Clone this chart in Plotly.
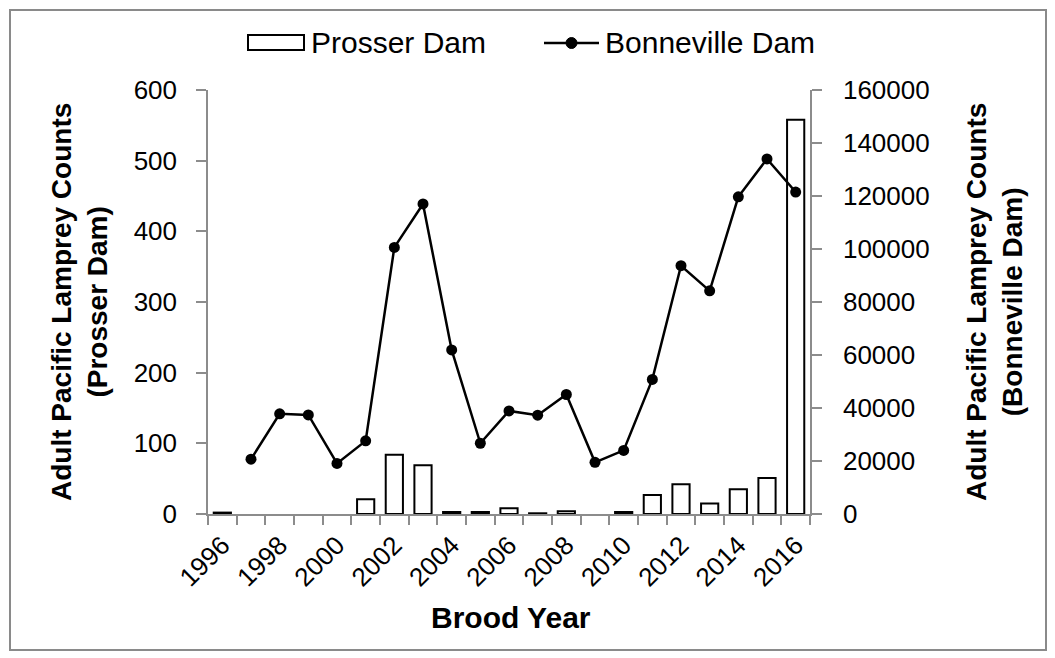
import plotly.graph_objects as go

# --- data ---
years = list(range(1996, 2017))
prosser = [2, None, None, None, None, 21, 84, 69, 3, 3, 8, 1, 4, None, 3, 27, 42, 15, 35, 51, 558]
bonneville = [None, 20700, 37800, 37400, 19100, 27600, 100600, 117000, 61900, 26700, 38900,
              37300, 45100, 19500, 24000, 50800, 93700, 84200, 119700, 134000, 121500]
year_labels = [str(y) for y in range(1996, 2017, 2)]

FONT = "Liberation Sans, Arial, sans-serif"
AXIS_GREY = "#8c8c8c"

# plot area in page pixels (page has an 8px body margin)
PX0, PX1, PY0, PY1 = 208, 810, 90, 514


def px(sx):
    return (sx - PX0) / (PX1 - PX0)


def py(sy):
    return (PY1 - sy) / (PY1 - PY0)


fig = go.Figure()

# Prosser Dam bars (left axis)
fig.add_trace(go.Bar(
    x=years, y=prosser, name="Prosser Dam", width=0.6,
    marker=dict(color="white", line=dict(color="black", width=2)),
    yaxis="y", showlegend=False,
))

# Bonneville Dam line (right axis)
fig.add_trace(go.Scatter(
    x=years, y=bonneville, name="Bonneville Dam", mode="lines+markers",
    line=dict(color="black", width=2.5),
    marker=dict(color="black", size=11),
    yaxis="y2", showlegend=False,
))

fig.update_layout(
    width=1055, height=658,
    margin=dict(l=200, r=253, t=82, b=152),
    paper_bgcolor="white", plot_bgcolor="white",
    font=dict(family=FONT, size=25, color="black"),
    xaxis=dict(
        range=[1995.5, 2016.5],
        tickvals=list(range(1996, 2017, 2)), ticktext=year_labels,
        tickangle=-45, ticks="", showgrid=False, zeroline=False,
        showline=True, linecolor=AXIS_GREY, linewidth=1.5,
        minor=dict(ticks="outside", tick0=1995.5, dtick=1, ticklen=9,
                   tickcolor=AXIS_GREY, tickwidth=1.5, showgrid=False),
        tickfont=dict(size=26), ticklabelstandoff=4,
    ),
    yaxis=dict(
        range=[0, 600], dtick=100, showgrid=False, zeroline=False,
        showline=True, linecolor=AXIS_GREY, linewidth=1.5,
        ticks="outside", ticklen=10, tickcolor=AXIS_GREY, tickwidth=1.5,
        tickfont=dict(size=26), ticklabelstandoff=14,
    ),
    yaxis2=dict(
        range=[0, 160000], dtick=20000, overlaying="y", side="right",
        tickformat="d", showgrid=False, zeroline=False,
        showline=True, linecolor=AXIS_GREY, linewidth=1.5,
        ticks="outside", ticklen=10, tickcolor=AXIS_GREY, tickwidth=1.5,
        tickfont=dict(size=26), ticklabelstandoff=16,
    ),
)

# axis titles
fig.add_annotation(text="<b>Brood Year</b>", xref="paper", yref="paper",
                   x=px(511), y=py(617), showarrow=False, font=dict(size=30),
                   xanchor="center", yanchor="middle")
fig.add_annotation(text="<b>Adult Pacific Lamprey Counts<br>(Prosser Dam)</b>",
                   xref="paper", yref="paper", x=px(79), y=0.5, textangle=-90,
                   showarrow=False, font=dict(size=28), xanchor="center", yanchor="middle")
fig.add_annotation(text="<b>Adult Pacific Lamprey Counts<br>(Bonneville Dam)</b>",
                   xref="paper", yref="paper", x=px(994), y=0.5, textangle=-90,
                   showarrow=False, font=dict(size=28), xanchor="center", yanchor="middle")

# legend drawn by hand so the bar key is a wide box like the original
fig.add_shape(type="rect", xref="paper", yref="paper",
              x0=px(248), x1=px(304), y0=py(50), y1=py(35),
              line=dict(color="black", width=2), fillcolor="white")
fig.add_annotation(text="Prosser Dam", xref="paper", yref="paper",
                   x=px(309), y=py(43), showarrow=False, font=dict(size=30),
                   xanchor="left", yanchor="middle")
fig.add_shape(type="line", xref="paper", yref="paper",
              x0=px(544), x1=px(599), y0=py(43), y1=py(43),
              line=dict(color="black", width=2.5))
fig.add_shape(type="circle", xref="paper", yref="paper",
              x0=px(566), x1=px(577), y0=py(48.5), y1=py(37.5),
              line=dict(color="black", width=1), fillcolor="black")
fig.add_annotation(text="Bonneville Dam", xref="paper", yref="paper",
                   x=px(603), y=py(43), showarrow=False, font=dict(size=30),
                   xanchor="left", yanchor="middle")

# outer frame around the whole chart
fig.add_shape(type="rect", xref="paper", yref="paper",
              x0=px(10), x1=px(1046), y0=py(650), y1=py(10),
              line=dict(color="#8a8a8a", width=2), fillcolor="rgba(0,0,0,0)", layer="below")

fig.write_html("out.html")
